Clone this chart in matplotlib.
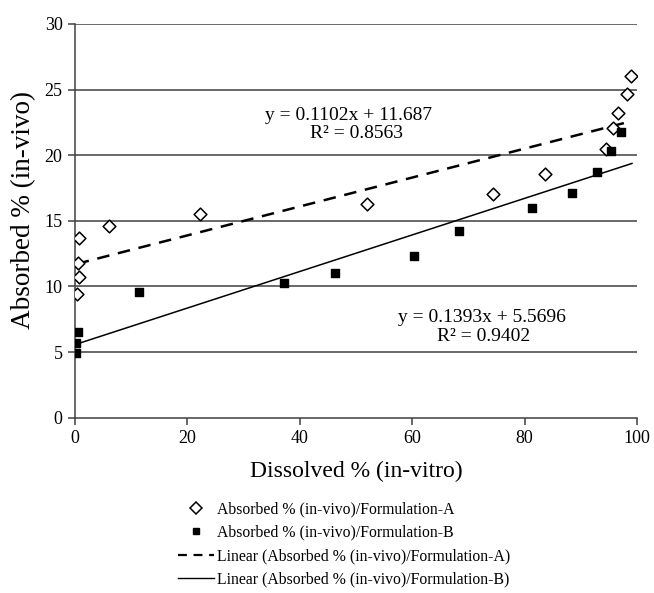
import matplotlib.pyplot as plt
from matplotlib.lines import Line2D

# Formulation-A (open diamonds)
dissolved_a = [0.3, 0.7, 0.6, 0.8, 6.1, 22.2, 52.0, 74.3, 83.6, 94.4, 95.7, 96.6, 98.3, 98.9]
absorbed_a = [9.45, 10.7, 11.8, 13.7, 14.6, 15.5, 16.3, 17.05, 18.55, 20.45, 22.1, 23.25, 24.65, 26.0]

# Formulation-B (filled squares)
dissolved_b = [0.2, 0.2, 0.5, 11.4, 37.2, 46.2, 60.3, 68.4, 81.4, 88.5, 92.8, 95.4, 97.1]
absorbed_b = [4.9, 5.7, 6.55, 9.6, 10.3, 11.0, 12.3, 14.2, 16.0, 17.1, 18.75, 20.3, 21.8]

# trendlines as printed on the chart
slope_a, icept_a, r2_a = 0.1102, 11.687, 0.8563
slope_b, icept_b, r2_b = 0.1393, 5.5696, 0.9402
fit_span_a = [0.3, 97.9]
fit_span_b = [0.2, 99.1]

x_ticks = [0, 20, 40, 60, 80, 100]
y_ticks = [0, 5, 10, 15, 20, 25, 30]

SERIF = "Liberation Serif"

fig = plt.figure(figsize=(6.54, 5.93), dpi=100)
ax = fig.add_axes([75 / 654, 1 - 417.7 / 593, 562 / 654, 393.7 / 593])

for y in y_ticks[1:]:
    ax.axhline(y, color="#404040", linewidth=1.1, zorder=1)

fit_a_y = [slope_a * x + icept_a for x in fit_span_a]
fit_b_y = [slope_b * x + icept_b for x in fit_span_b]
ax.plot(fit_span_a, fit_a_y, color="black", linewidth=1.8, dashes=(5, 3.5), zorder=2)
ax.plot(fit_span_b, fit_b_y, color="black", linewidth=1.1, zorder=2)

ax.scatter(dissolved_a, absorbed_a, marker="D", s=42, facecolor="white",
           edgecolor="black", linewidth=1.1, zorder=3)
ax.scatter(dissolved_b, absorbed_b, marker="s", s=30, color="black", zorder=3)

ax.set_xlim(0, 100)
ax.set_ylim(0, 30)
ax.set_xticks(x_ticks)
ax.set_yticks(y_ticks)
ax.spines["top"].set_visible(False)
ax.spines["right"].set_visible(False)
for side in ("left", "bottom"):
    ax.spines[side].set_color("#404040")
    ax.spines[side].set_linewidth(1.1)
ax.tick_params(direction="out", length=5, width=1.1, color="#404040", pad=4)
for lab in ax.get_xticklabels() + ax.get_yticklabels():
    lab.set_fontfamily(SERIF)
    lab.set_fontsize(13)

ax.set_xlabel("Dissolved % (in-vitro)", fontfamily=SERIF, fontsize=17, labelpad=10)
ax.set_ylabel("Absorbed % (in-vivo)", fontfamily=SERIF, fontsize=19.5, labelpad=6)
ax.yaxis.label.set_y(0.528)


def eq_text(xp, yp, s):
    fig.text(xp / 654, 1 - yp / 593, s, ha="center", va="center",
             fontfamily=SERIF, fontsize=14)


eq_text(349, 115, f"y = {slope_a}x + {icept_a}")
eq_text(357, 133, f"R² = {r2_a}")
eq_text(482, 318, f"y = {slope_b}x + {icept_b}")
eq_text(484, 336, f"R² = {r2_b}")

handles = [
    Line2D([], [], linestyle="none", marker="D", markersize=6, markerfacecolor="white",
           markeredgecolor="black", markeredgewidth=1.1),
    Line2D([], [], linestyle="none", marker="s", markersize=5, color="black"),
    Line2D([], [], color="black", linewidth=1.6, dashes=(4, 3)),
    Line2D([], [], color="black", linewidth=1.0),
]
labels = [
    "Absorbed % (in-vivo)/Formulation-A",
    "Absorbed % (in-vivo)/Formulation-B",
    "Linear (Absorbed % (in-vivo)/Formulation-A)",
    "Linear (Absorbed % (in-vivo)/Formulation-B)",
]
fig.legend(handles, labels, loc="upper left", bbox_to_anchor=(178 / 654, 1 - 501 / 593),
           frameon=False, prop={"family": SERIF, "size": 11.3}, handlelength=2.3,
           handletextpad=0.2, labelspacing=0.48, borderpad=0, borderaxespad=0)

fig.savefig("out.png", dpi=100)
